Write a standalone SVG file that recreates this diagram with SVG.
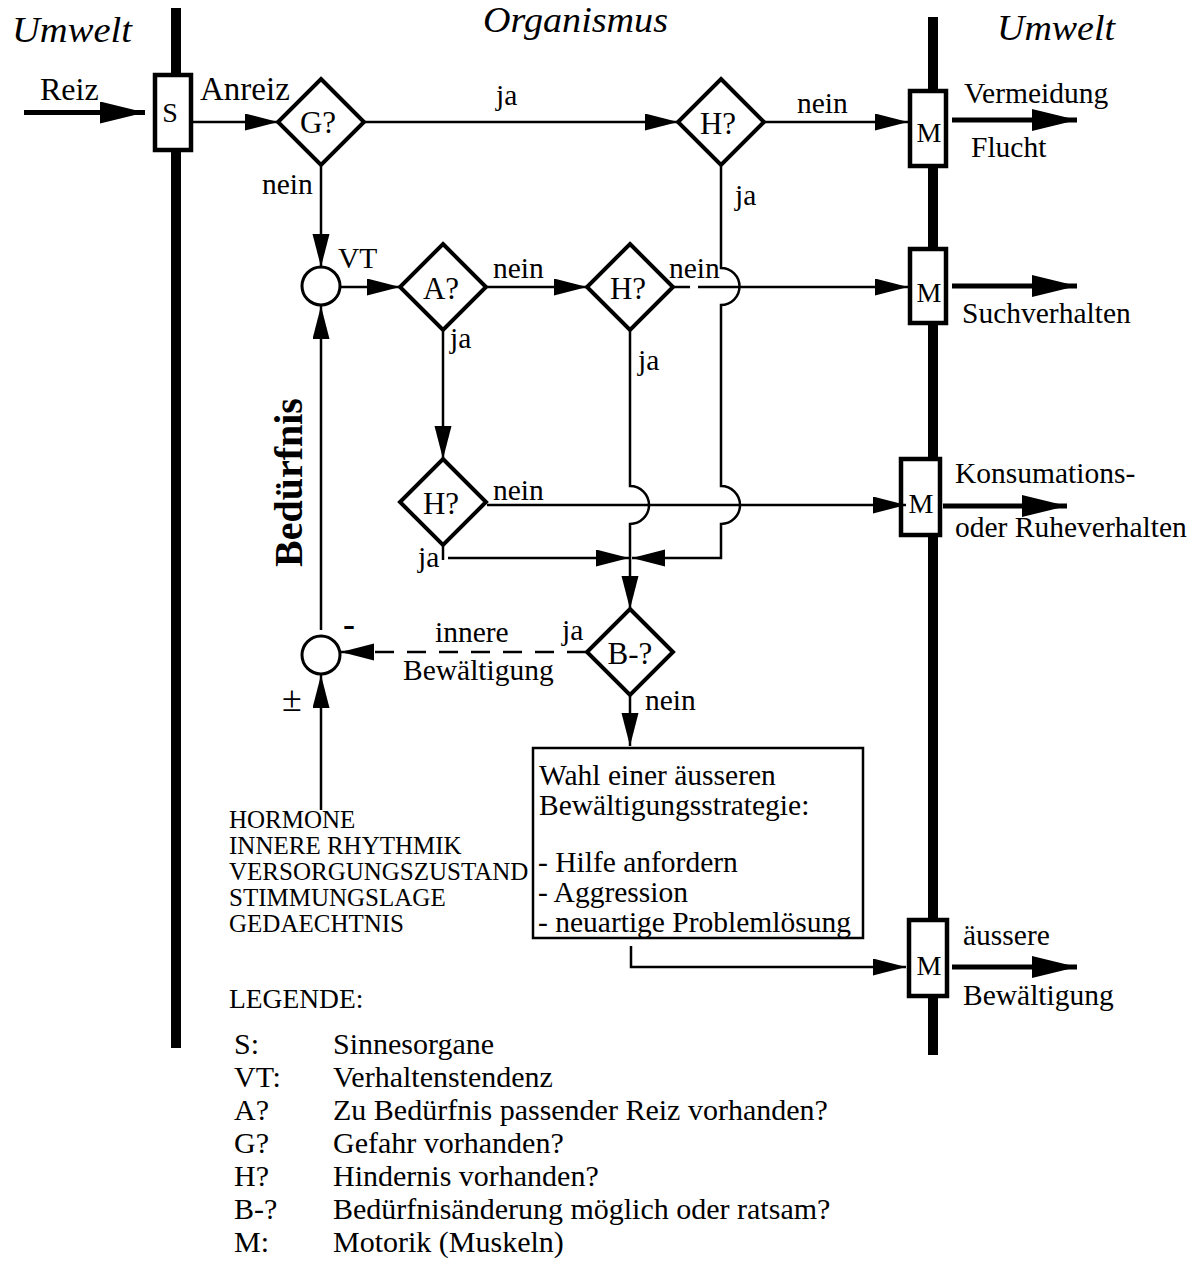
<svg xmlns="http://www.w3.org/2000/svg" width="1197" height="1276" viewBox="0 0 1197 1276">
<style>
text{font-family:"Liberation Serif","Times New Roman",serif;font-size:29.5px;fill:#000}
.it{font-style:italic;font-size:36px}
.dl{font-size:31px;text-anchor:middle}
.ml{font-size:28px;text-anchor:middle}
.caps{font-size:25px}
.leg{font-size:30px}
.bold{font-weight:bold}
.thin{stroke:#000;stroke-width:2.5;fill:none}
.thick{stroke:#000;stroke-width:5;fill:none}
.dash{stroke:#000;stroke-width:2.5;fill:none;stroke-dasharray:19 13}
.dia{fill:#fff;stroke:#000;stroke-width:4}
.box{fill:#fff;stroke:#000;stroke-width:4.5}
.rbox{fill:#fff;stroke:#000;stroke-width:2.5}
.circ{fill:#fff;stroke:#000;stroke-width:3}
.axis{stroke:#000;stroke-width:10}
</style>
<defs>
<marker id="ah" markerUnits="userSpaceOnUse" markerWidth="34" markerHeight="18" refX="33" refY="8.5" orient="auto" viewBox="0 0 34 18"><path d="M0,0 L33,8.5 L0,17 z" fill="#000"/></marker>
<marker id="ahb" markerUnits="userSpaceOnUse" markerWidth="46" markerHeight="22" refX="45" refY="11" orient="auto" viewBox="0 0 46 22"><path d="M0,0 L45,11 L0,22 z" fill="#000"/></marker>
</defs>
<rect width="1197" height="1276" fill="#fff"/>
<g id="axes">
<line class="axis" x1="176" y1="8" x2="176" y2="1048"/>
<line class="axis" x1="933" y1="17" x2="933" y2="1055"/>
</g>
<g id="titles">
<text class="it" x="12" y="42" textLength="120" lengthAdjust="spacingAndGlyphs">Umwelt</text>
<text class="it" x="483" y="32" textLength="185" lengthAdjust="spacingAndGlyphs">Organismus</text>
<text class="it" x="997" y="40" textLength="118" lengthAdjust="spacingAndGlyphs">Umwelt</text>
</g>
<g id="S"><rect class="box" x="155" y="75" width="36" height="75"/><text class="ml" x="170" y="122">S</text></g>
<g id="M1"><rect class="box" x="910" y="91" width="36" height="75"/><text class="ml" x="929" y="142">M</text></g>
<g id="M2"><rect class="box" x="910" y="249" width="36" height="74"/><text class="ml" x="929" y="302">M</text></g>
<g id="M3"><rect class="box" x="901" y="459" width="39" height="76"/><text class="ml" x="921" y="513">M</text></g>
<g id="M4"><rect class="box" x="909" y="920" width="38" height="76"/><text class="ml" x="929" y="975">M</text></g>
<g id="connectors">
<path class="thick" d="M24,112.5 H145" marker-end="url(#ahb)"/>
<path class="thin" d="M193,122 H278" marker-end="url(#ah)"/>
<path class="thin" d="M365,122 H678" marker-end="url(#ah)"/>
<path class="thin" d="M764,122 H908" marker-end="url(#ah)"/>
<path class="thick" d="M952,120 H1077" marker-end="url(#ahb)"/>
<path class="thin" d="M321,165 V267" marker-end="url(#ah)"/>
<path class="thin" d="M340,287 H400" marker-end="url(#ah)"/>
<path class="thin" d="M486,287 H587" marker-end="url(#ah)"/>
<path class="thin" d="M673,287 H690 M698,287 H908" marker-end="url(#ah)"/>
<path class="thick" d="M952,286 H1077" marker-end="url(#ahb)"/>
<path class="thin" d="M443,330 V459" marker-end="url(#ah)"/>
<path class="thin" d="M487,505 H906" marker-end="url(#ah)"/>
<path class="thick" d="M943,506 H1067" marker-end="url(#ahb)"/>
<path class="thin" d="M721,165 V268 A18.5,18.5 0 0 1 721,305 V486 A19,19 0 0 1 721,524 V558 H632" marker-end="url(#ah)"/>
<path class="thin" d="M630,330 V486 A19,19 0 0 1 630,524 V609" marker-end="url(#ah)"/>
<path class="thin" d="M443,545 V560"/>
<path class="thin" d="M448,558 H629" marker-end="url(#ah)"/>
<path class="thin" d="M630,695 V746" marker-end="url(#ah)"/>
<path class="dash" d="M586,652 H345"/>
<path class="thin" d="M372,652 H341" marker-end="url(#ah)"/>
<path class="thin" d="M321,630 V306" marker-end="url(#ah)"/>
<path class="thin" d="M321,810 V675" marker-end="url(#ah)"/>
<path class="thin" d="M631,946 V967 H906" marker-end="url(#ah)"/>
<path class="thick" d="M952,967 H1077" marker-end="url(#ahb)"/>
</g>
<g id="G"><polygon class="dia" points="321,79 364,122 321,165 278,122"/><text class="dl" x="318" y="133">G?</text></g>
<g id="H1"><polygon class="dia" points="721,79 764,122 721,165 678,122"/><text class="dl" x="718" y="134">H?</text></g>
<g id="A"><polygon class="dia" points="443,244 486,287 443,330 400,287"/><text class="dl" x="441" y="299">A?</text></g>
<g id="H2"><polygon class="dia" points="630,244 673,287 630,330 587,287"/><text class="dl" x="628" y="299">H?</text></g>
<g id="H3"><polygon class="dia" points="443,459 486,502 443,545 400,502"/><text class="dl" x="441" y="514">H?</text></g>
<g id="B"><polygon class="dia" points="630,609 673,652 630,695 587,652"/><text class="dl" x="630" y="664">B-?</text></g>
<g id="VT"><circle class="circ" cx="321" cy="286" r="19"/></g>
<g id="SUM"><circle class="circ" cx="321" cy="655" r="19"/></g>
<g id="strategy"><rect class="rbox" x="533" y="748" width="330" height="190"/>
<text x="539" y="785">Wahl einer äusseren</text>
<text x="539" y="815">Bewältigungsstrategie:</text>
<text x="538" y="872">- Hilfe anfordern</text>
<text x="538" y="902">- Aggression</text>
<text x="538" y="932">- neuartige Problemlösung</text>
</g>
<g id="labels">
<text x="40" y="100" style="font-size:32px">Reiz</text>
<text x="200" y="100" style="font-size:33px">Anreiz</text>
<text x="496" y="105">ja</text>
<text x="797" y="113">nein</text>
<text x="735" y="205">ja</text>
<text x="964" y="103">Vermeidung</text>
<text x="971" y="157">Flucht</text>
<text x="262" y="194">nein</text>
<text x="338" y="268">VT</text>
<text x="493" y="278">nein</text>
<text x="669" y="278">nein</text>
<text x="962" y="323">Suchverhalten</text>
<text x="450" y="348">ja</text>
<text x="638" y="370">ja</text>
<text x="493" y="500">nein</text>
<text x="955" y="483">Konsumations-</text>
<text x="955" y="537">oder Ruheverhalten</text>
<text x="418" y="567">ja</text>
<text x="562" y="640">ja</text>
<text x="435" y="642">innere</text>
<text x="403" y="680">Bewältigung</text>
<text x="645" y="710">nein</text>
<text class="bold" x="343" y="636" style="font-size:36px">-</text>
<text x="282" y="711" style="font-size:36px">±</text>
<text class="bold" transform="translate(302,567) rotate(-90)" style="font-size:40px">Bedürfnis</text>
<text x="963" y="945">äussere</text>
<text x="963" y="1005">Bewältigung</text>
</g>
<g id="factors">
<text class="caps" x="229" y="828">HORMONE</text>
<text class="caps" x="229" y="854">INNERE RHYTHMIK</text>
<text class="caps" x="229" y="880">VERSORGUNGSZUSTAND</text>
<text class="caps" x="229" y="906">STIMMUNGSLAGE</text>
<text class="caps" x="229" y="932">GEDAECHTNIS</text>
</g>
<g id="legend">
<text x="229" y="1008" style="font-size:27.5px">LEGENDE:</text>
<text class="leg" x="234" y="1054">S:</text><text class="leg" x="333" y="1054">Sinnesorgane</text>
<text class="leg" x="234" y="1087">VT:</text><text class="leg" x="333" y="1087">Verhaltenstendenz</text>
<text class="leg" x="234" y="1120">A?</text><text class="leg" x="333" y="1120">Zu Bedürfnis passender Reiz vorhanden?</text>
<text class="leg" x="234" y="1153">G?</text><text class="leg" x="333" y="1153">Gefahr vorhanden?</text>
<text class="leg" x="234" y="1186">H?</text><text class="leg" x="333" y="1186">Hindernis vorhanden?</text>
<text class="leg" x="234" y="1219">B-?</text><text class="leg" x="333" y="1219">Bedürfnisänderung möglich oder ratsam?</text>
<text class="leg" x="234" y="1252">M:</text><text class="leg" x="333" y="1252">Motorik (Muskeln)</text>
</g>
</svg>
